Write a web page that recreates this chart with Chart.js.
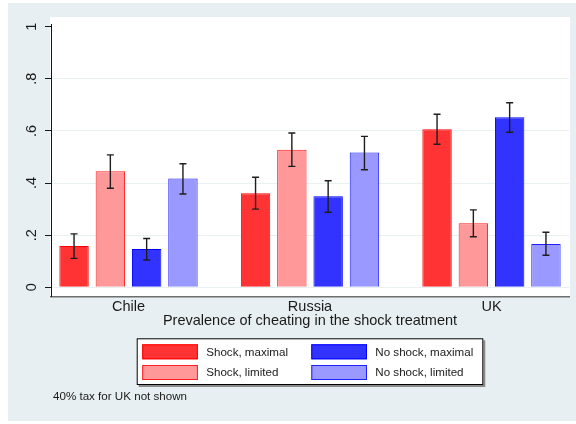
<!DOCTYPE html>
<html><head><meta charset="utf-8">
<script src="https://cdn.jsdelivr.net/npm/chart.js@4.4.0/dist/chart.umd.min.js"></script>
<style>html,body{margin:0;padding:0;background:#fff}#wrap{width:576px;height:424px}</style>
</head><body><div id="wrap"><canvas id="c" width="576" height="424"></canvas></div>
<script>
const categories = ['Chile', 'Russia', 'UK'];
const seriesNames = ['Shock, maximal', 'Shock, limited', 'No shock, maximal', 'No shock, limited'];
const shockMaximal = [0.158, 0.361, 0.606];
const shockLimited = [0.445, 0.528, 0.246];
const noShockMaximal = [0.147, 0.349, 0.652];
const noShockLimited = [0.417, 0.517, 0.166];
const shockMaximalLo = [0.111, 0.300, 0.549];
const shockMaximalHi = [0.205, 0.422, 0.664];
const shockLimitedLo = [0.380, 0.464, 0.194];
const shockLimitedHi = [0.508, 0.592, 0.297];
const noShockMaximalLo = [0.105, 0.288, 0.595];
const noShockMaximalHi = [0.187, 0.409, 0.708];
const noShockLimitedLo = [0.358, 0.451, 0.123];
const noShockLimitedHi = [0.474, 0.579, 0.211];
const yTicks = [0, 0.2, 0.4, 0.6, 0.8, 1];
const yTickLabels = ['0', '.2', '.4', '.6', '.8', '1'];
const xTitle = 'Prevalence of cheating in the shock treatment';
const note = '40% tax for UK not shown';

const values = [shockMaximal, shockLimited, noShockMaximal, noShockLimited];
const lows = [shockMaximalLo, shockLimitedLo, noShockMaximalLo, noShockLimitedLo];
const highs = [shockMaximalHi, shockLimitedHi, noShockMaximalHi, noShockLimitedHi];
const fills = ['rgb(255,51,51)', 'rgb(255,153,153)', 'rgb(51,51,255)', 'rgb(153,153,255)'];
const borders = ['rgb(255,0,0)', 'rgb(255,30,30)', 'rgb(0,0,255)', 'rgb(30,30,255)'];
const FONT = '"Liberation Sans", Arial, Helvetica, sans-serif';

const bgPlugin = {
  id: 'bgPlugin',
  beforeDraw(chart) {
    const ctx = chart.ctx, a = chart.chartArea;
    ctx.save();
    ctx.fillStyle = '#ffffff';
    ctx.fillRect(0, 0, chart.width, chart.height);
    ctx.fillStyle = 'rgb(232,239,242)';
    ctx.fillRect(8, 3, chart.width - 8, 418);
    ctx.fillStyle = '#ffffff';
    ctx.fillRect(a.left - 1, a.top - 7, a.right - a.left + 2, a.bottom - a.top + 7);
    ctx.restore();
  }
};

const errPlugin = {
  id: 'errPlugin',
  afterDatasetsDraw(chart) {
    const ctx = chart.ctx, ys = chart.scales.y;
    ctx.save();
    ctx.strokeStyle = '#1e1e1e';
    ctx.lineWidth = 1.4;
    chart.data.datasets.forEach((ds, di) => {
      const meta = chart.getDatasetMeta(di);
      meta.data.forEach((bar, i) => {
        const x = bar.x;
        const y1 = ys.getPixelForValue(lows[di][i]);
        const y2 = ys.getPixelForValue(highs[di][i]);
        ctx.beginPath();
        ctx.moveTo(x, y1); ctx.lineTo(x, y2);
        ctx.moveTo(x - 3.5, y1); ctx.lineTo(x + 3.5, y1);
        ctx.moveTo(x - 3.5, y2); ctx.lineTo(x + 3.5, y2);
        ctx.stroke();
      });
    });
    ctx.restore();
  }
};

const legendPlugin = {
  id: 'legendPlugin',
  afterDraw(chart) {
    const ctx = chart.ctx, a = chart.chartArea;
    const cx = (a.left + a.right) / 2;
    const bw = 346.6, bh = 46.7;
    const bx = cx - bw / 2, by = 338.3;
    ctx.save();
    ctx.fillStyle = '#8a8a8a';
    ctx.fillRect(bx + 2, by + 2, bw, bh);
    ctx.fillStyle = '#ffffff';
    ctx.fillRect(bx, by, bw, bh);
    ctx.strokeStyle = '#000';
    ctx.lineWidth = 1;
    ctx.strokeRect(bx + 0.5, by + 0.5, bw - 1, bh - 1);
    const order = [0, 2, 1, 3];
    const colX = [bx + 5.5, bx + 174.6];
    const rowY = [by + 6, by + 26.7];
    order.forEach((di, k) => {
      const col = k % 2, row = Math.floor(k / 2);
      const sx = colX[col], sy = rowY[row];
      ctx.fillStyle = fills[di];
      ctx.fillRect(sx, sy, 55.7, 15);
      ctx.strokeStyle = borders[di];
      ctx.strokeRect(sx + 0.5, sy + 0.5, 54.7, 14);
      ctx.fillStyle = '#1a1a1a';
      ctx.font = '11.6px ' + FONT;
      ctx.textBaseline = 'middle';
      ctx.textAlign = 'left';
      ctx.fillText(seriesNames[di], sx + 64, sy + 8);
    });
    ctx.fillText(note, 53, 397);
    ctx.restore();
  }
};

new Chart(document.getElementById('c'), {
  type: 'bar',
  data: {
    datasets: values.map((vals, di) => ({
      label: seriesNames[di],
      data: categories.map((c, i) => ({ x: i, y: vals[i] })),
      backgroundColor: fills[di],
      borderColor: borders[di],
      borderWidth: 1,
      categoryPercentage: 0.8,
      barPercentage: 0.81
    }))
  },
  options: {
    responsive: false,
    animation: false,
    devicePixelRatio: 1,
    layout: { padding: { left: 0, top: 24, right: 7, bottom: 87.3 } },
    plugins: { legend: { display: false }, tooltip: { enabled: false } },
    scales: {
      x: {
        type: 'linear',
        offset: false,
        min: -0.427,
        max: 2.427,
        afterBuildTicks: s => { s.ticks = categories.map((c, i) => ({ value: i })); },
        afterFit: s => { s.height = 40; },
        ticks: {
          callback: v => categories[v],
          font: { family: FONT, size: 14.5 },
          color: '#1a1a1a',
          padding: 2,
          autoSkip: false,
          maxRotation: 0
        },
        grid: { display: false, drawTicks: false, offset: false },
        border: { display: true, color: '#6e6e6e', width: 1.5 },
        title: {
          display: true,
          text: xTitle,
          font: { family: FONT, size: 14.5 },
          color: '#1a1a1a',
          padding: { top: 0, bottom: 7 }
        }
      },
      y: {
        min: -0.036,
        max: 1.01,
        afterBuildTicks: s => { s.ticks = yTicks.map(v => ({ value: v })); },
        afterFit: s => { s.width = 51; },
        ticks: {
          callback: (v, i) => yTickLabels[i],
          minRotation: 90,
          maxRotation: 90,
          crossAlign: 'center',
          padding: 7,
          font: { family: FONT, size: 14.5 },
          color: '#1a1a1a'
        },
        grid: {
          color: c => (c.tick && c.tick.value === 1) ? 'rgba(0,0,0,0)' : 'rgb(233,240,242)',
          tickColor: '#1a1a1a',
          tickLength: 6,
          lineWidth: 1
        },
        border: { display: true, color: '#111', width: 1 }
      }
    }
  },
  plugins: [bgPlugin, errPlugin, legendPlugin]
});
</script>
</body></html>
